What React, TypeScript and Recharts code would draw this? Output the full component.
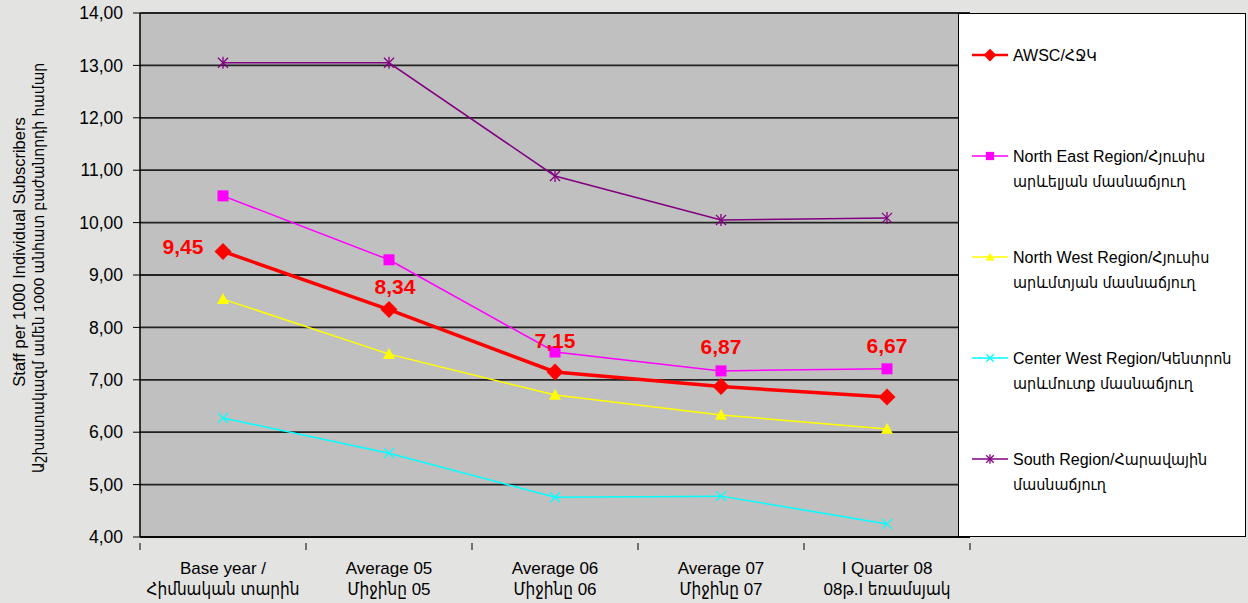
import { LineChart, Line, XAxis, YAxis, CartesianGrid, LabelList } from 'recharts'

const categories = [
    'Base year /\nՀիմնական տարին',
    'Average 05\nՄիջինը 05',
    'Average 06\nՄիջինը 06',
    'Average 07\nՄիջինը 07',
    'I Quarter 08\n08թ.I եռամսյակ',
]
const awsc = [9.45, 8.34, 7.15, 6.87, 6.67]
const northEast = [10.51, 9.29, 7.53, 7.17, 7.21]
const northWest = [8.54, 7.49, 6.71, 6.33, 6.06]
const centerWest = [6.27, 5.6, 4.76, 4.78, 4.25]
const south = [13.05, 13.05, 10.89, 10.05, 10.09]
const yTicks = [4, 5, 6, 7, 8, 9, 10, 11, 12, 13, 14]

const seriesNames = {
    awsc: 'AWSC/ՀՋԿ',
    northEast: 'North East Region/Հյուսիս\nարևելյան մասնաճյուղ',
    northWest: 'North West Region/Հյուսիս\nարևմտյան մասնաճյուղ',
    centerWest: 'Center West Region/Կենտրոն\nարևմուտք մասնաճյուղ',
    south: 'South Region/Հարավային\nմասնաճյուղ',
}

const data = categories.map((c, i) => ({
    cat: c,
    awsc: awsc[i],
    northEast: northEast[i],
    northWest: northWest[i],
    centerWest: centerWest[i],
    south: south[i],
}))

const W = 1248
const H = 603
const margin = { top: 13, right: 278, bottom: 0, left: 0 }
const yAxisW = 140
const bandW = (W - margin.right - margin.left - yAxisW) / categories.length

// Armenian glyphs fall back to the condensed DejaVu, closer to the original widths
const font = '"Liberation Sans", Arial, "DejaVu Sans Condensed", "DejaVu Sans", sans-serif'
const fmt = (v: number) => v.toFixed(2).replace('.', ',')

// marker shapes
const shape = (kind: string, cx: number, cy: number, color: string, s = 1) => {
    if (kind === 'diamond') {
        const r = 8.5 * s
        return <polygon points={`${cx},${cy - r} ${cx + r},${cy} ${cx},${cy + r} ${cx - r},${cy}`} fill={color} />
    }
    if (kind === 'square') {
        const r = 5.5 * s
        return <rect x={cx - r} y={cy - r} width={2 * r} height={2 * r} fill={color} />
    }
    if (kind === 'triangle') {
        const r = 6 * s
        return <polygon points={`${cx},${cy - r} ${cx + r},${cy + r * 0.8} ${cx - r},${cy + r * 0.8}`} fill={color} />
    }
    if (kind === 'x') {
        const r = 5 * s
        return (
            <g stroke={color} strokeWidth={1.3}>
                <line x1={cx - r} y1={cy - r} x2={cx + r} y2={cy + r} />
                <line x1={cx - r} y1={cy + r} x2={cx + r} y2={cy - r} />
            </g>
        )
    }
    const r = 5 * s
    return (
        <g stroke={color} strokeWidth={1.3}>
            <line x1={cx - r} y1={cy - r} x2={cx + r} y2={cy + r} />
            <line x1={cx - r} y1={cy + r} x2={cx + r} y2={cy - r} />
            <line x1={cx} y1={cy - r - 1} x2={cx} y2={cy + r + 1} />
        </g>
    )
}

const dotFor = (kind: string, color: string) => (props: any) => (
    <g key={`${kind}-${props.index}`}>{shape(kind, props.cx, props.cy, color)}</g>
)

// label offsets for the AWSC values (moved by hand in the original)
const labelDx = [-40, 6, 0, 0, 0]
const labelDy = [-5, -23, -31, -40, -52]

const AwscLabel = (props: any) => {
    const { x, y, value, index } = props
    return (
        <text
            x={x + labelDx[index]}
            y={y + labelDy[index]}
            textAnchor="middle"
            dominantBaseline="central"
            fill="#ff0000"
            fontSize={21}
            fontWeight="bold"
            fontFamily={font}
        >
            {fmt(value)}
        </text>
    )
}

const XTick = (props: any) => {
    const { x, y, payload, index } = props
    const lines = String(payload.value).split('\n')
    const top = y - 2
    return (
        <g>
            <line x1={x - bandW / 2} y1={top} x2={x - bandW / 2} y2={top + 7} stroke="#000" />
            {index === categories.length - 1 && (
                <line x1={x + bandW / 2} y1={top} x2={x + bandW / 2} y2={top + 7} stroke="#000" />
            )}
            {lines.map((l, i) => (
                <text key={i} x={x} y={top + 31 + i * 21} textAnchor="middle" fontSize={17} fontFamily={font} fill="#000">
                    {l}
                </text>
            ))}
        </g>
    )
}

const legendItems = [
    { key: 'awsc', color: '#ff0000', kind: 'diamond', width: 3 },
    { key: 'northEast', color: '#ff00ff', kind: 'square', width: 1.5 },
    { key: 'northWest', color: '#ffff00', kind: 'triangle', width: 1.5 },
    { key: 'centerWest', color: '#00ffff', kind: 'x', width: 1.5 },
    { key: 'south', color: '#800080', kind: 'star', width: 1.5 },
]

const LegendBox = () => (
    <div
        style={{
            position: 'absolute',
            left: 958,
            top: 13,
            width: 286,
            height: 522,
            background: '#fff',
            border: '1.5px solid #000',
            fontFamily: font,
            fontSize: 16,
            color: '#000',
        }}
    >
        {legendItems.map((it, i) => {
            const lines = (seriesNames as any)[it.key].split('\n')
            return (
                <div key={it.key} style={{ position: 'absolute', left: 13, top: 31 + i * 101, display: 'flex' }}>
                    <svg width={38} height={20} style={{ flex: 'none' }}>
                        <line x1={0} y1={10} x2={36} y2={10} stroke={it.color} strokeWidth={it.width === 3 ? 2.5 : 1.5} />
                        {shape(it.kind, 18, 10, it.color, 0.75)}
                    </svg>
                    <div style={{ marginLeft: 3, lineHeight: '25px', marginTop: -2, whiteSpace: 'nowrap' }}>
                        {lines.map((l: string, j: number) => (
                            <div key={j}>{l}</div>
                        ))}
                    </div>
                </div>
            )
        })}
    </div>
)

const titleStyle = {
    position: 'absolute' as const,
    transform: 'translate(-50%, -50%) rotate(-90deg)',
    whiteSpace: 'nowrap' as const,
    lineHeight: '19px',
    color: '#000',
}

export default function App() {
    return (
        <div
            style={{
                position: 'fixed',
                left: 0,
                top: 0,
                width: W,
                height: H,
                background: '#e3e3e2',
                fontFamily: font,
            }}
        >
            <div style={{ ...titleStyle, left: 19, top: 252, fontSize: 16.5 }}>Staff per 1000 Individual Subscribers</div>
            <div style={{ ...titleStyle, left: 38, top: 268, fontSize: 15.5 }}>Աշխատակազմ ամեն 1000 անհատ բաժանորդի համար</div>
            <LineChart width={W} height={H} data={data} margin={margin}>
                <CartesianGrid vertical={false} stroke="#222" strokeWidth={1.8} fill="#c0c0c0" fillOpacity={1} />
                <XAxis
                    dataKey="cat"
                    interval={0}
                    height={66}
                    padding={{ left: bandW / 2, right: bandW / 2 }}
                    axisLine={{ stroke: '#000', strokeWidth: 1.5 }}
                    tickLine={false}
                    tick={<XTick />}
                />
                <YAxis
                    width={yAxisW}
                    domain={[4, 14]}
                    ticks={yTicks}
                    interval={0}
                    tickFormatter={fmt}
                    axisLine={{ stroke: '#000', strokeWidth: 1.5 }}
                    tickLine={{ stroke: '#000' }}
                    tickSize={7}
                    tickMargin={10}
                    tick={{ fontSize: 17.5, fill: '#000', fontFamily: font }}
                />
                <Line
                    dataKey="south"
                    name={seriesNames.south}
                    stroke="#800080"
                    strokeWidth={1.5}
                    dot={dotFor('star', '#800080')}
                    isAnimationActive={false}
                />
                <Line
                    dataKey="northEast"
                    name={seriesNames.northEast}
                    stroke="#ff00ff"
                    strokeWidth={1.5}
                    dot={dotFor('square', '#ff00ff')}
                    isAnimationActive={false}
                />
                <Line
                    dataKey="northWest"
                    name={seriesNames.northWest}
                    stroke="#ffff00"
                    strokeWidth={1.5}
                    dot={dotFor('triangle', '#ffff00')}
                    isAnimationActive={false}
                />
                <Line
                    dataKey="centerWest"
                    name={seriesNames.centerWest}
                    stroke="#00ffff"
                    strokeWidth={1.5}
                    dot={dotFor('x', '#00ffff')}
                    isAnimationActive={false}
                />
                <Line
                    dataKey="awsc"
                    name={seriesNames.awsc}
                    stroke="#ff0000"
                    strokeWidth={3.5}
                    dot={dotFor('diamond', '#ff0000')}
                    isAnimationActive={false}
                >
                    <LabelList dataKey="awsc" content={<AwscLabel />} />
                </Line>
            </LineChart>
            <LegendBox />
        </div>
    )
}
